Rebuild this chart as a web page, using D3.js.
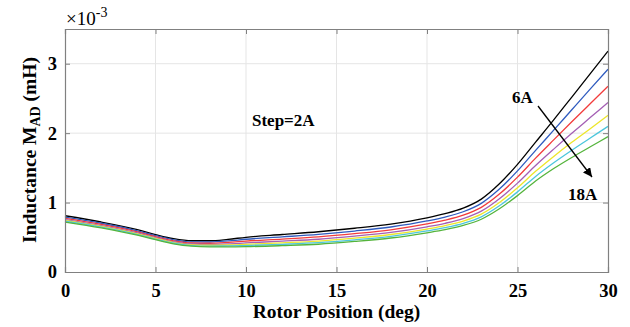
<!DOCTYPE html>
<html>
<head>
<meta charset="utf-8">
<script src="https://cdn.jsdelivr.net/npm/d3@7"></script>
<style>
  html, body { margin: 0; padding: 0; background: #fff; }
  svg { display: block; }
</style>
</head>
<body>
<svg id="chart" width="630" height="327"></svg>
<script>
// ---- data (inductance values in units of 1e-3 mH) ----
const rotorPosition = [0, 2, 4, 5, 6, 7, 8, 9, 10, 12, 14, 16, 18, 20, 21, 22, 23, 24, 25, 26, 27, 28, 29, 30];
const current6A  = [0.81, 0.72, 0.61, 0.54, 0.48, 0.45, 0.45, 0.47, 0.50, 0.54, 0.58, 0.63, 0.69, 0.78, 0.84, 0.92, 1.05, 1.27, 1.55, 1.87, 2.19, 2.52, 2.85, 3.18];
const current8A  = [0.79, 0.702, 0.593, 0.524, 0.464, 0.434, 0.432, 0.447, 0.472, 0.506, 0.542, 0.590, 0.648, 0.735, 0.792, 0.868, 0.989, 1.194, 1.456, 1.752, 2.043, 2.337, 2.63, 2.92];
const current10A = [0.773, 0.685, 0.577, 0.509, 0.449, 0.418, 0.414, 0.426, 0.445, 0.474, 0.506, 0.552, 0.608, 0.692, 0.746, 0.818, 0.931, 1.122, 1.366, 1.64, 1.903, 2.163, 2.42, 2.676];
const current12A = [0.756, 0.669, 0.562, 0.495, 0.435, 0.403, 0.398, 0.405, 0.419, 0.444, 0.472, 0.516, 0.570, 0.651, 0.702, 0.770, 0.876, 1.054, 1.28, 1.534, 1.77, 1.998, 2.22, 2.442];
const current14A = [0.743, 0.656, 0.550, 0.484, 0.424, 0.392, 0.385, 0.389, 0.399, 0.420, 0.445, 0.488, 0.540, 0.619, 0.668, 0.733, 0.833, 1.0, 1.213, 1.45, 1.665, 1.868, 2.06, 2.258];
const current16A = [0.731, 0.645, 0.540, 0.474, 0.414, 0.381, 0.373, 0.375, 0.381, 0.399, 0.422, 0.463, 0.514, 0.591, 0.638, 0.700, 0.795, 0.953, 1.154, 1.377, 1.574, 1.754, 1.926, 2.098];
const current18A = [0.72, 0.635, 0.53, 0.465, 0.405, 0.372, 0.363, 0.362, 0.365, 0.38, 0.40, 0.44, 0.49, 0.565, 0.61, 0.67, 0.76, 0.91, 1.10, 1.31, 1.49, 1.65, 1.80, 1.95];

const seriesNames = ["6A", "8A", "10A", "12A", "14A", "16A", "18A"];
const seriesValues = [current6A, current8A, current10A, current12A, current14A, current16A, current18A];
const seriesColors = ["#000000", "#2f5bbf", "#f23c3c", "#a45fb4", "#ece62a", "#4cc6dc", "#55b43c"];

const xTicks = [0, 5, 10, 15, 20, 25, 30];
const yTicks = [0, 1, 2, 3];

// ---- layout ----
const FONT = "'Liberation Serif', 'Times New Roman', serif";
const svg = d3.select("#chart").attr("font-family", FONT);
const m = { left: 65, right: 608, top: 29, bottom: 272 };
const x = d3.scaleLinear().domain([0, 30]).range([m.left, m.right]);
const y = d3.scaleLinear().domain([0, 3.5]).range([m.bottom, m.top]);

// grid
const grid = svg.append("g");
grid.selectAll(".gx").data(xTicks.slice(1, -1)).enter().append("line")
  .attr("x1", d => x(d)).attr("x2", d => x(d))
  .attr("y1", m.top).attr("y2", m.bottom)
  .attr("stroke", "#e5e5e5").attr("stroke-width", 1);
grid.selectAll(".gy").data(yTicks.slice(1)).enter().append("line")
  .attr("x1", m.left).attr("x2", m.right)
  .attr("y1", d => y(d)).attr("y2", d => y(d))
  .attr("stroke", "#e5e5e5").attr("stroke-width", 1);

// curves
const line = d3.line()
  .x((d, i) => x(rotorPosition[i]))
  .y(d => y(d))
  .curve(d3.curveMonotoneX);

svg.append("g").selectAll("path").data(seriesValues).enter().append("path")
  .attr("d", d => line(d))
  .attr("fill", "none")
  .attr("stroke", (d, i) => seriesColors[i])
  .attr("stroke-width", 1.3);

// axes (inward ticks, box)
const axisColor = "#808080";
const xAxisB = d3.axisBottom(x).tickValues(xTicks).tickSize(-5).tickFormat(d3.format("d"));
const xAxisT = d3.axisTop(x).tickValues(xTicks).tickSize(-5).tickFormat("");
const yAxisL = d3.axisLeft(y).tickValues(yTicks).tickSize(-5).tickFormat(d3.format("d"));
const yAxisR = d3.axisRight(y).tickValues(yTicks).tickSize(-5).tickFormat("");

function styleAxis(g) {
  g.attr("font-family", FONT).attr("font-size", 18.5).attr("font-weight", "bold");
  g.select(".domain").attr("stroke", axisColor).attr("stroke-width", 1.2);
  g.selectAll(".tick line").attr("stroke", axisColor).attr("stroke-width", 1);
  g.selectAll(".tick text").attr("fill", "#000");
}

const gxB = svg.append("g").attr("transform", `translate(0,${m.bottom})`).call(xAxisB);
gxB.call(styleAxis);
gxB.selectAll(".tick text").attr("dy", null).attr("y", 25);
const gxT = svg.append("g").attr("transform", `translate(0,${m.top})`).call(xAxisT);
gxT.call(styleAxis);
const gyL = svg.append("g").attr("transform", `translate(${m.left},0)`).call(yAxisL);
gyL.call(styleAxis);
gyL.selectAll(".tick text").attr("x", -8);
const gyR = svg.append("g").attr("transform", `translate(${m.right},0)`).call(yAxisR);
gyR.call(styleAxis);

// exponent label
const expo = svg.append("text").attr("x", 66).attr("y", 25).attr("font-size", 19);
expo.append("tspan").text("×10");
expo.append("tspan").attr("font-size", 14).attr("dy", -8).text("-3");

// axis titles
svg.append("text").attr("x", (m.left + m.right) / 2).attr("y", 318)
  .attr("text-anchor", "middle").attr("font-size", 19.5).attr("font-weight", "bold")
  .text("Rotor Position (deg)");

const yl = svg.append("text")
  .attr("transform", "translate(36,150) rotate(-90)")
  .attr("text-anchor", "middle").attr("font-size", 19.5).attr("font-weight", "bold");
yl.append("tspan").text("Inductance M");
yl.append("tspan").attr("font-size", 14).attr("dy", 4).text("AD");
yl.append("tspan").attr("dy", -4).text(" (mH)");

// annotations
const ann = svg.append("g").attr("font-size", 17).attr("font-weight", "bold");
ann.append("text").attr("x", 252).attr("y", 126).text("Step=2A");
ann.append("text").attr("x", 512).attr("y", 103).text("6A");
ann.append("text").attr("x", 568).attr("y", 200).text("18A");

svg.append("defs").append("marker")
  .attr("id", "ah").attr("viewBox", "0 0 10 10").attr("refX", 10).attr("refY", 5)
  .attr("markerWidth", 9).attr("markerHeight", 9).attr("markerUnits", "userSpaceOnUse")
  .attr("orient", "auto")
  .append("path").attr("d", "M0,0 L10,5 L0,10 z").attr("fill", "#000");

svg.append("line").attr("x1", 538).attr("y1", 106).attr("x2", 592).attr("y2", 177)
  .attr("stroke", "#000").attr("stroke-width", 1.3).attr("marker-end", "url(#ah)");
</script>
</body>
</html>
